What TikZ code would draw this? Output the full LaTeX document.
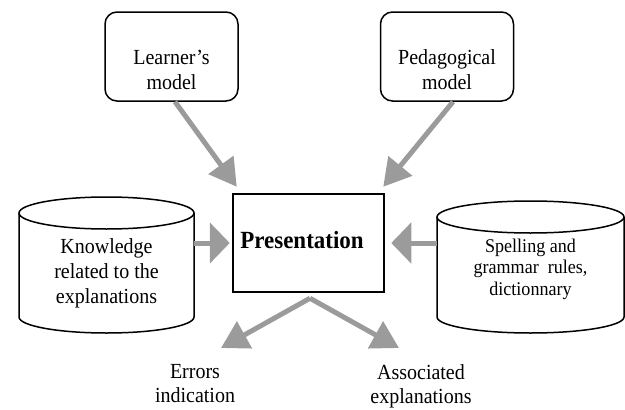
\documentclass[tikz,border=0pt]{standalone}
\usepackage{fontspec}
\setmainfont{Liberation Serif}[FakeStretch=0.93]
\usetikzlibrary{arrows.meta}
\definecolor{arrowgray}{RGB}{155,155,155}
\begin{document}
\begin{tikzpicture}[x=1pt,y=-1pt,
  outline/.style={draw=black,line width=1.5pt},
  modelbox/.style={outline,rounded corners=12pt,minimum width=133pt,minimum height=89pt,inner sep=0pt},
  txt/.style={align=center,font=\fontsize{21.5}{25}\selectfont,inner sep=0pt,anchor=north},
  smalltxt/.style={align=center,font=\fontsize{19.4}{21.5}\selectfont,inner sep=0pt,anchor=north},
  outtxt/.style={txt,font=\fontsize{21.5}{24}\selectfont},
  body/.style={inner sep=0pt,minimum width=#1,minimum height=136pt},
  flow/.style={draw=arrowgray,line width=5pt,-{Triangle[width=30pt,length=27pt]}},
  sideflow/.style={draw=arrowgray,line width=5pt,-{Triangle[width=40pt,length=20pt]}},
]
\useasboundingbox (0,0) rectangle (625,410);

% model boxes on top
\node[modelbox] (learner) at (171.5,56.5) {};
\node[txt] (learnertxt) at (171.5,49.5) {Learner’s\\model};
\node[modelbox] (peda) at (447,56.5) {};
\node[txt] (pedatxt) at (447,49.5) {Pedagogical\\model};

% central box and its title
\node[draw=black,line width=2.5pt,minimum width=151pt,minimum height=98pt,inner sep=0pt] (pres) at (308.5,243) {};
\node[inner sep=0pt,font=\fontsize{24.7}{30}\selectfont\bfseries] (prestxt) at (302,240.5) {Presentation};

% left data store
\node[body=175pt] (kb) at (106.5,265) {};
\draw[outline] (19,213) -- (19,317) arc[start angle=180,end angle=0,x radius=87.5,y radius=16] -- (194,213);
\draw[outline,fill=white] (106.5,213) ellipse[x radius=87.5,y radius=16];
\node[txt] (kbtxt) at (106.5,238) {Knowledge\\related to the\\explanations};

% right data store
\node[body=187pt] (rules) at (530.5,267) {};
\draw[outline] (437,217) -- (437,317) arc[start angle=180,end angle=0,x radius=93.5,y radius=16] -- (624,217);
\draw[outline,fill=white] (530.5,217) ellipse[x radius=93.5,y radius=16];
\node[smalltxt] (rulestxt) at (530.5,238.5) {Spelling and\\grammar\ \ rules,\\dictionnary};

% outputs
\node[outtxt] (errors) at (195,364) {Errors\\indication};
\node[outtxt] (assoc) at (421,364) {Associated\\explanations};

\coordinate (split) at ([shift={(1.5,5)}]pres.south);
\coordinate (errtip) at (221,348);
\coordinate (asstip) at (399,348);

% arrows
\draw[flow] ([xshift=3.5]learner.south) -- ([shift={(5,-6)}]pres.north west);
\draw[flow] ([xshift=6]peda.south) -- ([shift={(-2,-6)}]pres.north east);
\draw[sideflow] (kb.east |- pres.west) -- ([xshift=-2]pres.west);
\draw[sideflow] (rules.west |- pres.east) -- ([xshift=6]pres.east);
\draw[flow] (split) -- (errtip);
\draw[flow] (split) -- (asstip);
\end{tikzpicture}
\end{document}
